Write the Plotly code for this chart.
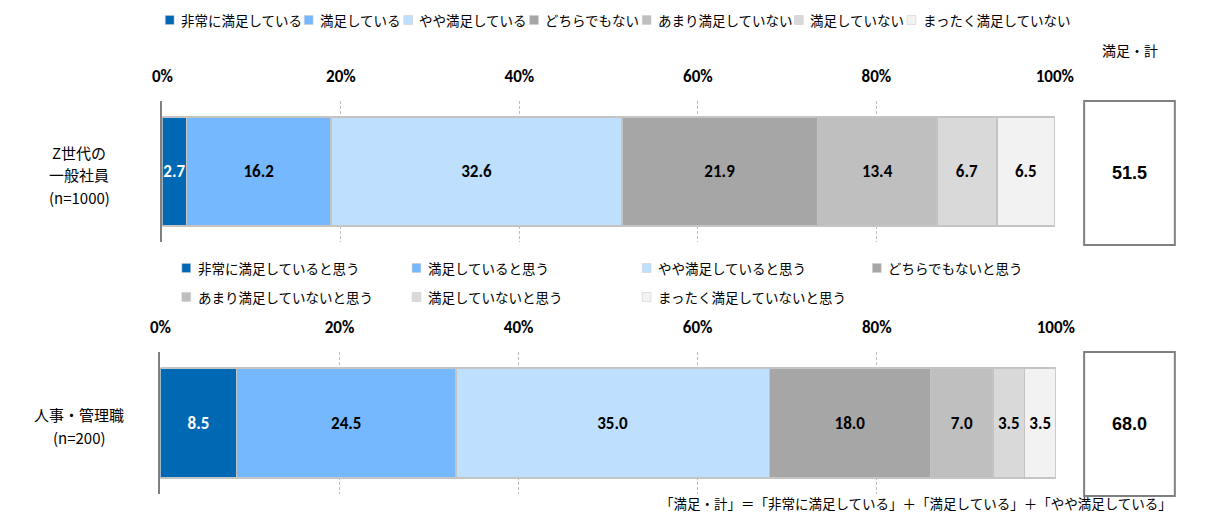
import plotly.graph_objects as go
from plotly.subplots import make_subplots

W, H = 1219, 520
OFF = 8  # the page body adds an 8px margin round the figure

# data
groups = ["Z世代の一般社員", "人事・管理職"]
group_lines = [["Z世代の", "一般社員", "(n=1000)"], ["人事・管理職", "(n=200)"]]
labels_top = ["非常に満足している", "満足している", "やや満足している", "どちらでもない",
              "あまり満足していない", "満足していない", "まったく満足していない"]
labels_bottom = ["非常に満足していると思う", "満足していると思う", "やや満足していると思う",
                 "どちらでもないと思う", "あまり満足していないと思う", "満足していないと思う",
                 "まったく満足していないと思う"]
gen_z = [2.7, 16.2, 32.6, 21.9, 13.4, 6.7, 6.5]
hr_mgr = [8.5, 24.5, 35.0, 18.0, 7.0, 3.5, 3.5]
satisfied_total = [51.5, 68.0]
tick_vals = [0, 20, 40, 60, 80, 100]
tick_text = [f"{v}%" for v in tick_vals]
total_header = "満足・計"
footnote = "「満足・計」＝「非常に満足している」＋「満足している」＋「やや満足している」"

colors = ["#0169b3", "#75b8fe", "#bfdfff", "#a6a6a6", "#bfbfbf", "#d9d9d9", "#f2f2f2"]
text_colors = ["white"] + ["black"] * 6

JP = "Noto Sans CJK JP"
NUM = "Carlito, Roboto, Liberation Sans"
LEG_SIZE = 13.5


# positions below are page pixels
def px(x):
    return (x - OFF) / W


def py(y):
    return 1 - (y - OFF) / H


fig = make_subplots(rows=2, cols=1)

for row, vals in ((1, gen_z), (2, hr_mgr)):
    for i, v in enumerate(vals):
        fig.add_trace(go.Bar(
            x=[v], y=[groups[row - 1]], orientation="h",
            marker=dict(color=colors[i], line=dict(color="#c4c4c4", width=1.5)),
            text=[v], texttemplate="%{x:.1f}", textangle=0,
            textposition="inside", insidetextanchor="middle", constraintext="none",
            textfont=dict(family=NUM, size=17, color=text_colors[i], weight="bold"),
            showlegend=False, hoverinfo="skip",
        ), row=row, col=1)

axis_x = dict(range=[0, 100], side="top", tickmode="array", tickvals=tick_vals, ticktext=tick_text,
              showgrid=True, gridcolor="#bdbdbd", griddash="3px,2px", gridwidth=1,
              zeroline=False, showline=False, ticks="", ticklabelstandoff=15,
              tickfont=dict(family=NUM, size=17, color="black", weight="bold"))
axis_y = dict(showticklabels=False, showgrid=False, zeroline=False, showline=True,
              linecolor="#808080", linewidth=2, ticks="")

fig.update_xaxes(**axis_x)
fig.update_yaxes(**axis_y)
fig.update_layout(
    xaxis=dict(domain=[px(155), px(1070)]),
    yaxis=dict(domain=[py(242), py(101)]),
    xaxis2=dict(domain=[px(153), px(1071)]),
    yaxis2=dict(domain=[py(494), py(352)]),
)

annotations = []
shapes = []


def note(x, y, text, font, xanchor="center"):
    annotations.append(dict(x=px(x), y=py(y), xref="paper", yref="paper", text=text,
                            showarrow=False, xanchor=xanchor, yanchor="middle", font=font))


# category labels on the left
label_rows = [[152, 174, 197], [414, 437]]
for lines, ys in zip(group_lines, label_rows):
    for line, y in zip(lines, ys):
        note(70, y, line, dict(family=JP, size=15, color="black"))

# satisfied total boxes
boxes = [(1100, 1193, 101, 245), (1100, 1193, 352, 496)]
for (x0, x1, y0, y1), tot in zip(boxes, satisfied_total):
    shapes.append(dict(type="rect", xref="paper", yref="paper",
                       x0=px(x0), x1=px(x1), y0=py(y1), y1=py(y0),
                       line=dict(color="#808080", width=2), fillcolor="white"))
    note((x0 + x1) / 2, (y0 + y1) / 2, f"{tot:.1f}",
         dict(family="Liberation Sans", size=18, color="black", weight="bold"))

note(1147, 50, total_header, dict(family=JP, size=14, color="black"))
note(1192, 503, footnote, dict(family=JP, size=13.5, color="black"), xanchor="right")


# hand-placed legends
def legend_item(x, y, color, text):
    shapes.append(dict(type="rect", xref="paper", yref="paper",
                       x0=px(x), x1=px(x + 9), y0=py(y + 4.5), y1=py(y - 4.5),
                       fillcolor=color, line=dict(color="#c8c8c8", width=0.5)))
    note(x + 14, y, text, dict(family=JP, size=LEG_SIZE, color="black"), xanchor="left")


x = 158
for i, lab in enumerate(labels_top):
    legend_item(x, 20, colors[i], lab)
    x += 14 + len(lab) * LEG_SIZE + 7

bottom_cols = [175, 411, 647, 883]
bottom_rows = [268, 297]
for i, lab in enumerate(labels_bottom):
    legend_item(bottom_cols[i % 4], bottom_rows[i // 4], colors[i], lab)

fig.update_layout(
    width=W, height=H,
    margin=dict(l=0, r=0, t=0, b=0),
    barmode="stack", bargap=0.225,
    plot_bgcolor="white", paper_bgcolor="white",
    font=dict(family=JP, color="black"),
    annotations=annotations, shapes=shapes,
)

fig.write_html("out.html")
